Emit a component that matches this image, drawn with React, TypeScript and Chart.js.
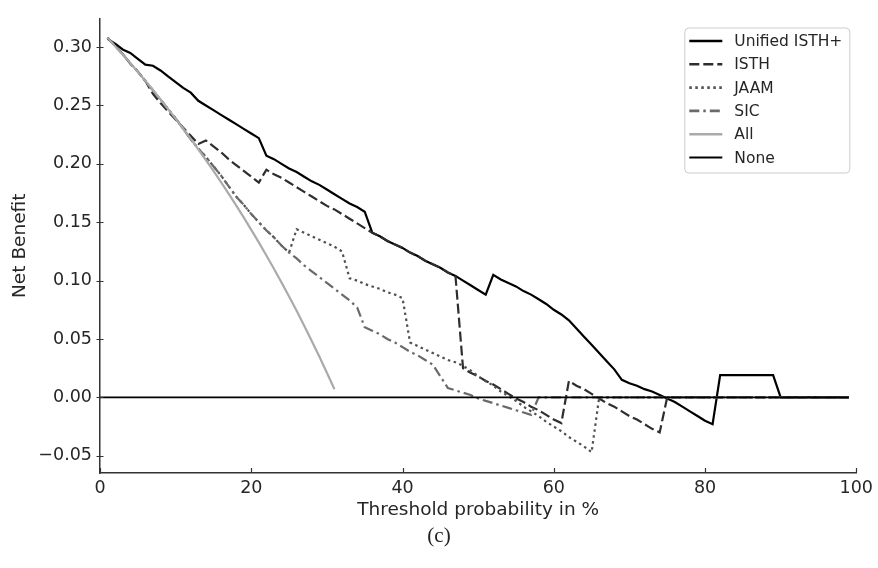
import React, { useEffect, useRef } from 'react';
import { Chart, registerables } from 'chart.js';

Chart.register(...registerables);

// Threshold probabilities (%)
const thresholds = [
  0, 1, 2, 3, 4, 5, 6, 7, 8, 9, 10, 11, 12, 13, 14, 15, 16, 17, 18, 19, 20,
  21, 22, 23, 24, 25, 26, 27, 28, 29, 30, 31, 32, 33, 34, 35, 36, 37, 38, 39, 40,
  41, 42, 43, 44, 45, 46, 47, 48, 49, 50, 51, 52, 53, 54, 55, 56, 57, 58, 59, 60,
  61, 62, 63, 64, 65, 66, 67, 68, 69, 70, 71, 72, 73, 74, 75, 76, 77, 78, 79, 80,
  81, 82, 83, 84, 85, 86, 87, 88, 89, 90, 91, 92, 93, 94, 95, 96, 97, 98, 99,
];

const unifiedIsth = [
  null, 0.307, 0.303, 0.298, 0.295, 0.290, 0.285, 0.284, 0.280, 0.275, 0.270,
  0.265, 0.261, 0.254, 0.250, 0.246, 0.242, 0.238, 0.234, 0.230, 0.226,
  0.222, 0.207, 0.204, 0.200, 0.196, 0.193, 0.189, 0.185, 0.182, 0.178,
  0.174, 0.170, 0.166, 0.163, 0.159, 0.141, 0.138, 0.134, 0.131, 0.128,
  0.124, 0.121, 0.117, 0.114, 0.111, 0.107, 0.104, 0.100, 0.096, 0.092,
  0.088, 0.105, 0.101, 0.098, 0.095, 0.091, 0.088, 0.084, 0.080, 0.075,
  0.071, 0.066, 0.059, 0.052, 0.045, 0.038, 0.031, 0.024, 0.015, 0.012,
  0.010, 0.007, 0.005, 0.002, -0.001, -0.004, -0.008, -0.012, -0.016, -0.020,
  -0.023, 0.019, 0.019, 0.019, 0.019, 0.019, 0.019, 0.019, 0.019, 0.000,
  0, 0, 0, 0, 0, 0, 0, 0, 0,
];

const isth = [
  null, 0.308, 0.301, 0.294, 0.286, 0.279, 0.271, 0.260, 0.252, 0.245, 0.238,
  0.231, 0.224, 0.217, 0.220, 0.215, 0.210, 0.204, 0.199, 0.194, 0.189,
  0.184, 0.195, 0.191, 0.188, 0.184, 0.180, 0.176, 0.172, 0.168, 0.164,
  0.161, 0.157, 0.153, 0.149, 0.145, 0.141, 0.138, 0.134, 0.131, 0.128,
  0.124, 0.121, 0.117, 0.114, 0.111, 0.107, 0.104, 0.025, 0.021, 0.018,
  0.014, 0.011, 0.007, 0.003, -0.001, -0.004, -0.008, -0.011, -0.015, -0.019,
  -0.022, 0.014, 0.010, 0.007, 0.003, -0.001, -0.005, -0.008, -0.012, -0.016,
  -0.019, -0.023, -0.027, -0.030, 0, 0, 0, 0, 0, 0,
  0, 0, 0, 0, 0, 0, 0, 0, 0, 0,
  0, 0, 0, 0, 0, 0, 0, 0, 0,
];

const jaam = [
  null, 0.308, 0.301, 0.294, 0.286, 0.279, 0.271, 0.263, 0.255, 0.247, 0.239,
  0.230, 0.221, 0.213, 0.206, 0.198, 0.190, 0.181, 0.172, 0.165, 0.157,
  0.150, 0.143, 0.137, 0.130, 0.124, 0.144, 0.141, 0.138, 0.135, 0.132,
  0.129, 0.125, 0.102, 0.100, 0.097, 0.095, 0.093, 0.090, 0.088, 0.085,
  0.047, 0.044, 0.041, 0.038, 0.035, 0.032, 0.030, 0.027, 0.023, 0.018,
  0.014, 0.010, 0.005, 0.001, -0.003, -0.008, -0.012, -0.016, -0.021, -0.025,
  -0.029, -0.034, -0.038, -0.042, -0.047, 0, 0, 0, 0, 0,
  0, 0, 0, 0, 0, 0, 0, 0, 0, 0,
  0, 0, 0, 0, 0, 0, 0, 0, 0, 0,
  0, 0, 0, 0, 0, 0, 0, 0, 0,
];

const sic = [
  null, 0.308, 0.301, 0.294, 0.286, 0.279, 0.271, 0.263, 0.255, 0.247, 0.239,
  0.230, 0.221, 0.213, 0.206, 0.198, 0.190, 0.181, 0.172, 0.165, 0.157,
  0.150, 0.143, 0.137, 0.130, 0.124, 0.119, 0.113, 0.108, 0.103, 0.098,
  0.093, 0.088, 0.083, 0.077, 0.060, 0.057, 0.054, 0.050, 0.047, 0.043,
  0.039, 0.036, 0.032, 0.028, 0.018, 0.008, 0.006, 0.004, 0.002, -0.001,
  -0.003, -0.005, -0.007, -0.009, -0.011, -0.013, -0.015, 0, 0, 0,
  0, 0, 0, 0, 0, 0, 0, 0, 0, 0,
  0, 0, 0, 0, 0, 0, 0, 0, 0, 0,
  0, 0, 0, 0, 0, 0, 0, 0, 0, 0,
  0, 0, 0, 0, 0, 0, 0, 0, 0,
];

const treatAll = [
  null, 0.3079, 0.3008, 0.2936, 0.2863, 0.2787, 0.2711, 0.2632, 0.2552, 0.2470, 0.2387,
  0.2301, 0.2214, 0.2124, 0.2033, 0.1939, 0.1843, 0.1745, 0.1644, 0.1541, 0.1435,
  0.1327, 0.1215, 0.1101, 0.0984, 0.0864, 0.0741, 0.0614, 0.0483, 0.0349, 0.0211,
  0.0070,
];

const treatNone = [
  0, 0, 0, 0, 0, 0, 0, 0, 0, 0, 0, 0, 0, 0, 0, 0, 0, 0, 0, 0, 0,
  0, 0, 0, 0, 0, 0, 0, 0, 0, 0, 0, 0, 0, 0, 0, 0, 0, 0, 0, 0,
  0, 0, 0, 0, 0, 0, 0, 0, 0, 0, 0, 0, 0, 0, 0, 0, 0, 0, 0, 0,
  0, 0, 0, 0, 0, 0, 0, 0, 0, 0, 0, 0, 0, 0, 0, 0, 0, 0, 0, 0,
  0, 0, 0, 0, 0, 0, 0, 0, 0, 0, 0, 0, 0, 0, 0, 0, 0, 0, 0,
];

const seriesLabels = ['Unified ISTH+', 'ISTH', 'JAAM', 'SIC', 'All', 'None'];
const xTicks = [0, 20, 40, 60, 80, 100];
const yTicks = [-0.05, 0, 0.05, 0.1, 0.15, 0.2, 0.25, 0.3];

const FONT = '"DejaVu Sans", sans-serif';

function toPoints(values: (number | null)[]) {
  return values.map((v, i) => ({ x: thresholds[i], y: v }));
}

const tickMarksPlugin = {
  id: 'tickMarks',
  afterDraw(chart: any) {
    const { ctx, chartArea } = chart;
    const xs = chart.scales.x;
    const ys = chart.scales.y;
    ctx.save();
    ctx.strokeStyle = '#333';
    ctx.lineWidth = 1.2;
    ctx.beginPath();
    yTicks.forEach((v) => {
      const py = Math.round(ys.getPixelForValue(v)) + 0.5;
      ctx.moveTo(chartArea.left - 3.5, py);
      ctx.lineTo(chartArea.left + 3.5, py);
    });
    xTicks.forEach((v) => {
      const px = Math.round(xs.getPixelForValue(v)) + 0.5;
      ctx.moveTo(px, chartArea.bottom);
      ctx.lineTo(px, chartArea.bottom - 5);
    });
    ctx.stroke();
    ctx.restore();
  },
};

const legendPlugin = {
  id: 'boxLegend',
  afterDraw(chart: any) {
    const { ctx, chartArea } = chart;
    const w = 165;
    const h = 145;
    const x0 = chartArea.right - 7 - w;
    const y0 = chartArea.top + 9;
    ctx.save();
    ctx.beginPath();
    ctx.roundRect(x0 + 0.5, y0 + 0.5, w, h, 4);
    ctx.fillStyle = 'rgba(255,255,255,0.85)';
    ctx.fill();
    ctx.strokeStyle = '#cccccc';
    ctx.lineWidth = 1;
    ctx.stroke();
    chart.data.datasets.forEach((ds: any, i: number) => {
      const cy = y0 + 13.5 + i * 23.3;
      ctx.beginPath();
      ctx.setLineDash(ds.borderDash || []);
      ctx.lineWidth = ds.borderWidth + 0.4;
      ctx.strokeStyle = ds.borderColor;
      ctx.lineCap = 'butt';
      ctx.moveTo(x0 + 5, cy);
      ctx.lineTo(x0 + 38, cy);
      ctx.stroke();
      ctx.setLineDash([]);
      ctx.fillStyle = '#262626';
      ctx.font = `15.5px ${FONT}`;
      ctx.textBaseline = 'middle';
      ctx.textAlign = 'left';
      ctx.fillText(ds.label, x0 + 50, cy + 1);
    });
    ctx.restore();
  },
};

const captionPlugin = {
  id: 'caption',
  afterDraw(chart: any) {
    const { ctx, width } = chart;
    ctx.save();
    ctx.fillStyle = '#222';
    ctx.font = '21px "Liberation Serif", "DejaVu Serif", serif';
    ctx.textAlign = 'center';
    ctx.textBaseline = 'middle';
    ctx.fillText('(c)', width / 2, 536);
    ctx.restore();
  },
};

export default function App() {
  const canvasRef = useRef<HTMLCanvasElement | null>(null);

  useEffect(() => {
    if (!canvasRef.current) return;
    const common = { pointRadius: 0, fill: false, tension: 0, spanGaps: false };
    const chart = new Chart(canvasRef.current, {
      type: 'line',
      data: {
        datasets: [
          { ...common, label: seriesLabels[0], data: toPoints(unifiedIsth), borderColor: '#000000', borderWidth: 2.2, order: 6 },
          { ...common, label: seriesLabels[1], data: toPoints(isth), borderColor: '#2e2e2e', borderWidth: 2.2, borderDash: [10, 4], order: 5 },
          { ...common, label: seriesLabels[2], data: toPoints(jaam), borderColor: '#505050', borderWidth: 2.2, borderDash: [2.5, 3.5], order: 4 },
          { ...common, label: seriesLabels[3], data: toPoints(sic), borderColor: '#6a6a6a', borderWidth: 2.2, borderDash: [10, 4, 2.5, 4], order: 3 },
          { ...common, label: seriesLabels[4], data: toPoints(treatAll), borderColor: '#aaaaaa', borderWidth: 2.2, order: 2 },
          { ...common, label: seriesLabels[5], data: toPoints(treatNone), borderColor: '#000000', borderWidth: 1.6, order: 1 },
        ] as any,
      },
      options: {
        animation: false,
        responsive: false,
        devicePixelRatio: 1,
        layout: { padding: { left: 0, right: 19, top: 16, bottom: 0 } },
        plugins: {
          legend: { display: false },
          tooltip: { enabled: false },
          title: { display: false },
        },
        scales: {
          x: {
            type: 'linear',
            min: 0,
            max: 100,
            afterBuildTicks: (scale: any) => {
              scale.ticks = xTicks.map((v) => ({ value: v }));
            },
            afterFit: (scale: any) => {
              scale.height = 95;
            },
            grid: { display: false, drawOnChartArea: false, drawTicks: false },
            border: { display: true, color: '#333', width: 1.5 },
            ticks: {
              padding: 5,
              color: '#262626',
              font: { family: FONT, size: 17.5 },
              maxRotation: 0,
              autoSkip: false,
              callback: (v: any) => String(v),
            },
            title: {
              display: true,
              text: 'Threshold probability in %',
              color: '#262626',
              font: { family: FONT, size: 18.5 },
              padding: { top: 0, bottom: 47 },
            },
          },
          y: {
            type: 'linear',
            min: -0.0648,
            max: 0.3245,
            afterBuildTicks: (scale: any) => {
              scale.ticks = yTicks.map((v) => ({ value: v }));
            },
            afterFit: (scale: any) => {
              scale.width = 100;
            },
            grid: { display: false, drawOnChartArea: false, drawTicks: false },
            border: { display: true, color: '#333', width: 1.5 },
            ticks: {
              padding: 8,
              color: '#262626',
              font: { family: FONT, size: 17.5 },
              autoSkip: false,
              callback: (v: any) => {
                const n = Number(v);
                const s = Math.abs(n).toFixed(2);
                return n < -1e-9 ? '\u2212' + s : s;
              },
            },
            title: {
              display: true,
              text: 'Net Benefit',
              color: '#262626',
              font: { family: FONT, size: 18.5 },
              padding: { top: 9, bottom: 0 },
            },
          },
        },
      } as any,
      plugins: [tickMarksPlugin, legendPlugin, captionPlugin],
    });
    return () => chart.destroy();
  }, []);

  return (
    <div style={{ position: 'absolute', left: 0, top: 0, width: 878, height: 568, background: '#fff' }}>
      <canvas ref={canvasRef} width={878} height={568} style={{ display: 'block' }} />
    </div>
  );
}
